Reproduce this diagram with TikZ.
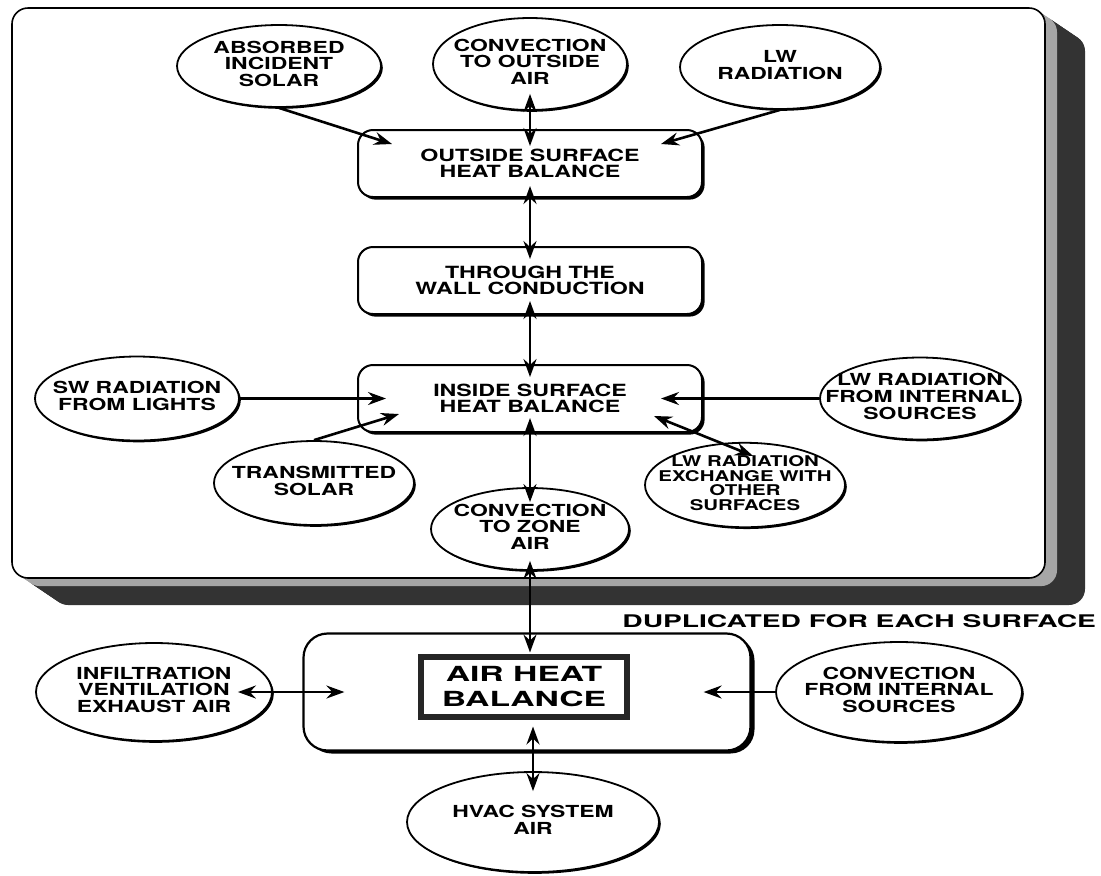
\documentclass[tikz,border=0pt]{standalone}
\usepackage{fontspec}
\newfontfamily\diafont{TeX Gyre Heros}[FakeStretch=1.38]
\newfontfamily\widefont{TeX Gyre Heros}[FakeStretch=1.62]
\usetikzlibrary{arrows.meta}
\usetikzlibrary{shapes.geometric}
\usetikzlibrary{shadows}
\newcommand{\ovtext}[1]{\makebox[0pt]{\begin{tabular}{@{}c@{}}#1\end{tabular}}}

\begin{document}
\begin{tikzpicture}[x=0.5pt,y=-0.5pt,
  >={Stealth[length=9pt,width=6.5pt,inset=3pt]},
  oval/.style={ellipse, draw, line width=0.9pt, fill=white, inner sep=0pt,
    drop shadow={shadow xshift=0.9pt,shadow yshift=-0.9pt,fill=black,opacity=1},
    font=\diafont\bfseries\fontsize{8.3}{7.6}\selectfont},
  balbox/.style={rectangle, rounded corners=7.5pt, draw, line width=1pt, fill=white,
    minimum width=172pt, minimum height=33.5pt, align=center,
    drop shadow={shadow xshift=1.3pt,shadow yshift=-1.3pt,fill=black,opacity=1},
    font=\diafont\bfseries\fontsize{8.4}{8.3}\selectfont},
  flow/.style={line width=1.3pt}]
  \useasboundingbox (0,0) rectangle (1101,875);

  %Stacked copies behind the panel
  \foreach \s in {20,...,7}
    \fill[black!80, rounded corners=8pt] (12+2*\s,8+1.35*\s) rectangle (1045+2*\s,578+1.35*\s);
  \foreach \s in {6,...,1}
    \fill[black!35, rounded corners=8pt] (12+2*\s,8+1.35*\s) rectangle (1045+2*\s,578+1.35*\s);
  %Front panel
  \draw[fill=white, line width=0.8pt, rounded corners=8pt] (12,8) rectangle (1045,578);

  %Outside
  \node[oval, minimum width=102pt, minimum height=41pt] (abs) at (279,66) {\ovtext{ABSORBED\\INCIDENT\\SOLAR}};
  \node[oval, minimum width=97pt, minimum height=46pt] (cto) at (530,64) {\ovtext{CONVECTION\\TO OUTSIDE\\AIR}};
  \node[oval, minimum width=100pt, minimum height=42pt] (lwr) at (780,67) {\ovtext{LW\\RADIATION}};
  \node[balbox] (osb) at (530,163.5) {OUTSIDE SURFACE\\HEAT BALANCE};
  \node[balbox] (twc) at (530,280.5) {THROUGH THE\\WALL CONDUCTION};
  \node[balbox] (isb) at (530,398.5) {INSIDE SURFACE\\HEAT BALANCE};

  %Inside
  \node[oval, minimum width=102pt, minimum height=42pt] (swl) at (137,398.5) {\ovtext{SW RADIATION\\FROM LIGHTS}};
  \node[oval, minimum width=100pt, minimum height=42pt] (tso) at (314,483) {\ovtext{TRANSMITTED\\SOLAR}};
  \node[oval, minimum width=99pt, minimum height=41pt] (cza) at (530,529) {\ovtext{CONVECTION\\TO ZONE\\AIR}};
  \node[oval, minimum width=100pt, minimum height=41pt] (lwi) at (920,398.5) {\ovtext{LW RADIATION\\FROM INTERNAL\\SOURCES}};
  \node[oval, minimum width=100pt, minimum height=42pt, font=\diafont\bfseries\fontsize{7.4}{6.6}\selectfont] (lwx) at (745,485) {\ovtext{LW RADIATION\\EXCHANGE WITH\\OTHER\\SURFACES}};

  \node[anchor=base west, inner sep=0pt, font=\widefont\bfseries\fontsize{8.7}{10}\selectfont] (dup) at (622,627) {DUPLICATED FOR EACH SURFACE};

  %Air heat balance
  \node[draw, line width=1.1pt, rounded corners=12pt, fill=white, minimum width=223.5pt, minimum height=58.5pt,
    drop shadow={shadow xshift=2pt,shadow yshift=-1.5pt,fill=black,opacity=1}] (airbox) at (527,692) {};
  \node[draw=black!85, line width=3pt, minimum width=103pt, minimum height=30pt, align=center,
    font=\widefont\bfseries\fontsize{10.4}{12.5}\selectfont] (ahb) at (524,686.5) {AIR HEAT\\BALANCE};
  \node[oval, minimum width=118pt, minimum height=49pt] (inf) at (154,692) {\ovtext{INFILTRATION\\VENTILATION\\EXHAUST AIR}};
  \node[oval, minimum width=123pt, minimum height=50pt] (cfi) at (899,692) {\ovtext{CONVECTION\\FROM INTERNAL\\SOURCES}};
  \node[oval, minimum width=126pt, minimum height=50pt] (hvac) at (533,822) {\ovtext{HVAC SYSTEM\\AIR}};

  %Arrows
  \draw[flow,->] (abs.south) -- ([shift={(35,15)}]osb.north west);
  \draw[flow,->] (lwr.south) -- ([shift={(-42,15)}]osb.north east);
  \draw[flow,<->,shorten <=-8.5pt,shorten >=-8.5pt] (cto.south) -- (osb.north);
  \draw[flow,<->,shorten <=-6pt,shorten >=-6.5pt] (osb.south) -- (twc.north);
  \draw[flow,<->,shorten <=-7pt,shorten >=-6.5pt] (twc.south) -- (isb.north);
  \draw[flow,<->,shorten <=-7.5pt,shorten >=-7.5pt] (isb.south) -- (cza.north);
  \draw[flow,->] (swl.east) -- ([shift={(29,0)}]isb.west);
  \draw[flow,->] (tso.north) -- ([shift={(42,-19)}]isb.south west);
  \draw[flow,->] (lwi.west) -- ([shift={(-42,0)}]isb.east);
  \draw[flow,<->] ([shift={(-49,-17)}]isb.south east) -- ([shift={(8,14)}]lwx.north);
  \draw[flow,<->,shorten <=-5pt,shorten >=0.5pt] (cza.south) -- (cza.south |- ahb.north);
  \draw[flow,<->,shorten <=3.5pt,shorten >=-10pt] (ahb.south -| hvac.north) -- (hvac.north);
  \draw[flow,<->,shorten <=-17.5pt,shorten >=-21pt] (inf.east) -- (airbox.west);
  \draw[flow,->,shorten >=-24pt] (cfi.west) -- (airbox.east);
\end{tikzpicture}
\end{document}
